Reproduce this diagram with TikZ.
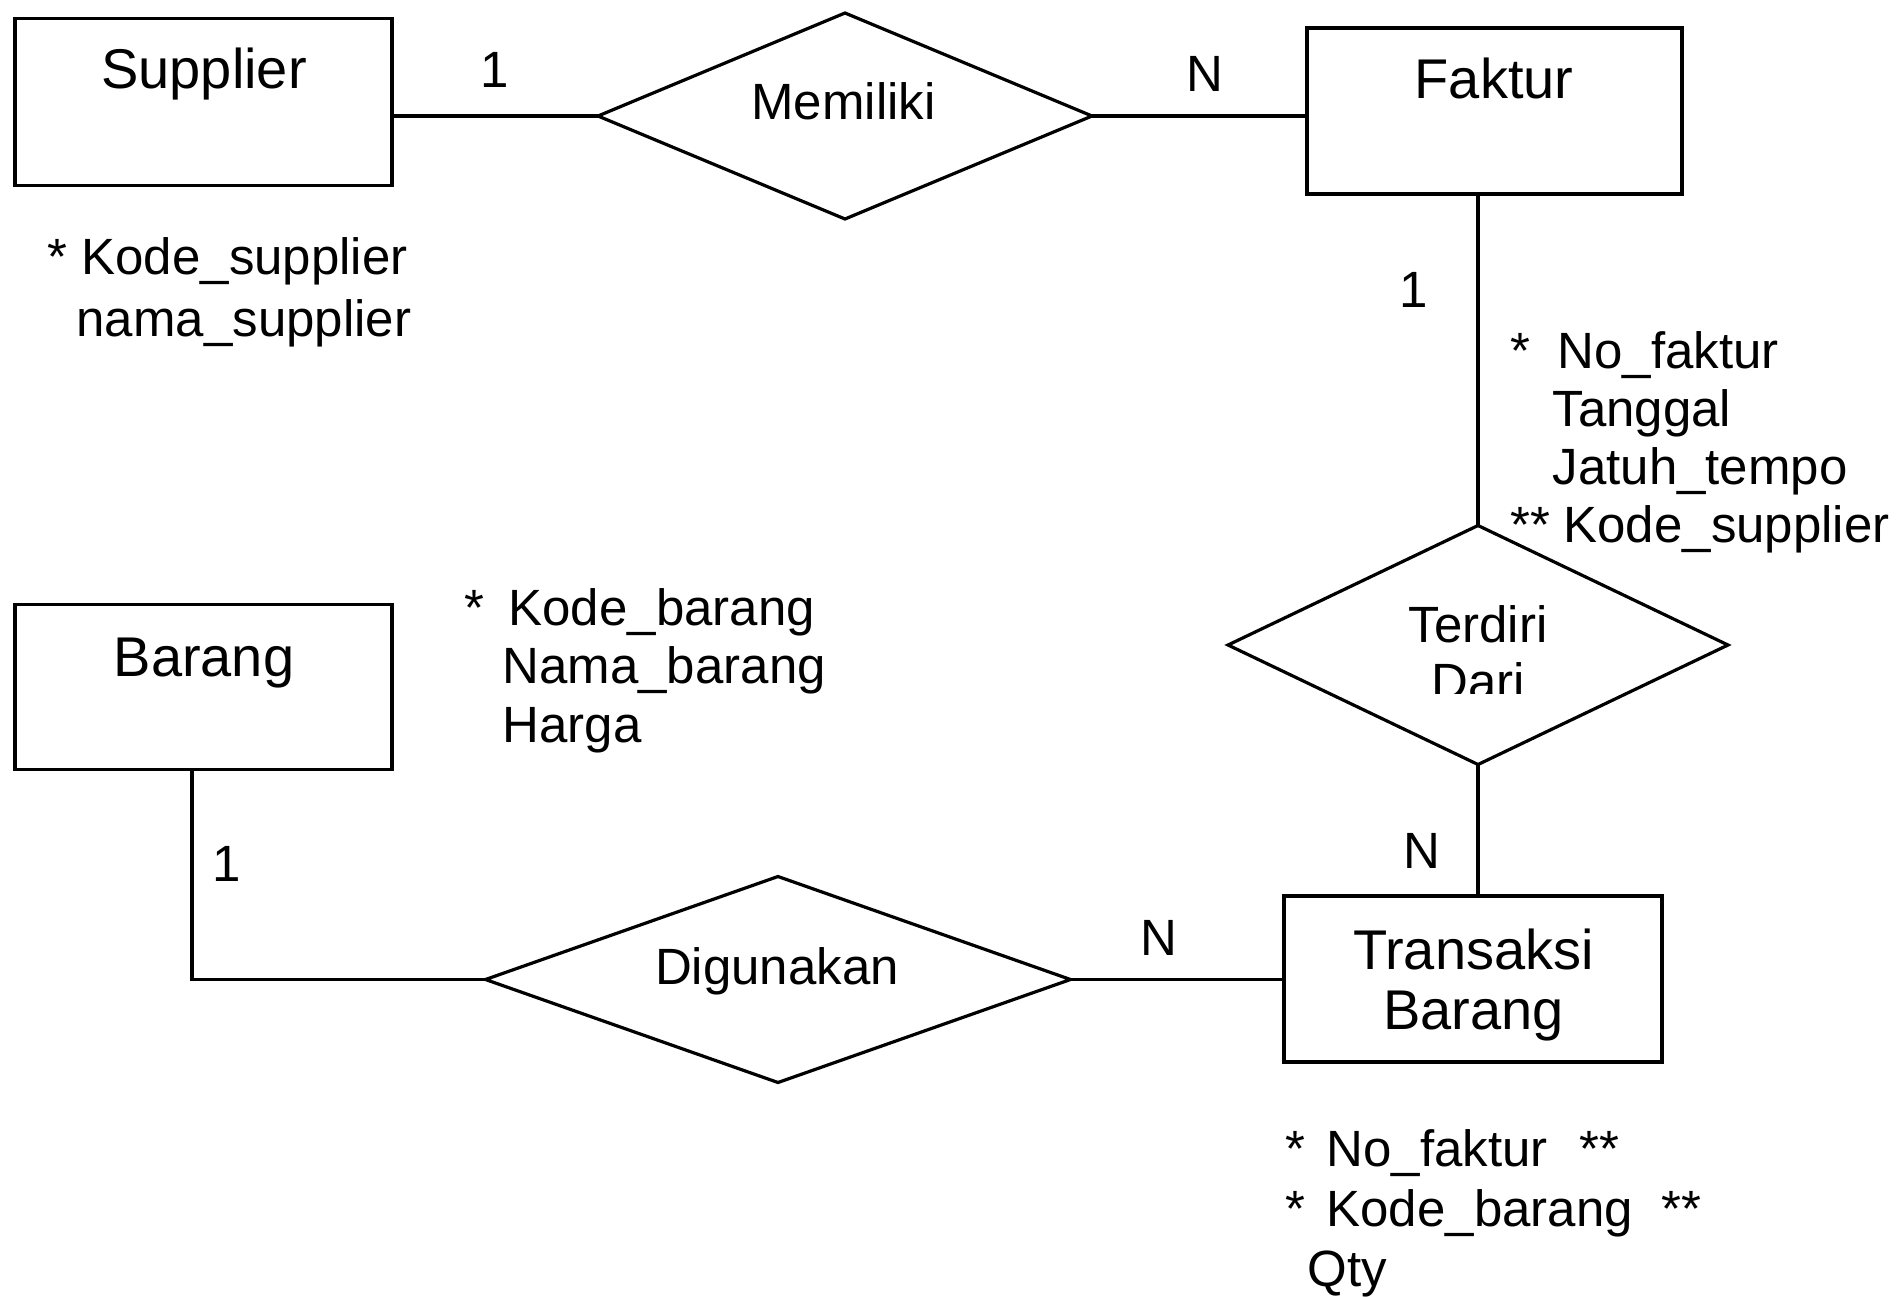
\documentclass[tikz,border=0pt]{standalone}
\usepackage{fontspec}
\setmainfont{Liberation Sans}
\usetikzlibrary{shapes.geometric}
\begin{document}
\begin{tikzpicture}[x=1pt,y=-1pt, font=\fontsize{51}{58}\selectfont, line width=3.2pt,
  entity/.style={draw, rectangle, inner sep=0pt, outer sep=0pt},
  rel/.style={draw, diamond, inner sep=0pt, outer sep=0pt},
  txt/.style={inner sep=0pt, anchor=base west},
  ctxt/.style={inner sep=0pt, anchor=base},
  etxt/.style={inner sep=0pt, anchor=base, font=\fontsize{56}{62}\selectfont}]
\fill[white] (0,0) rectangle (1903,1296);
\useasboundingbox (0,0) rectangle (1903,1296);

% entities
\node[entity, minimum width=377pt, minimum height=167pt] (sup) at (203.5,102) {};
\node[entity, minimum width=375pt, minimum height=166pt] (fak) at (1494.5,111) {};
\node[entity, minimum width=378pt, minimum height=166pt] (tra) at (1473,979) {};
\node[entity, minimum width=377pt, minimum height=165pt] (bar) at (203.5,687) {};

% relationships
\node[rel, minimum width=494pt, minimum height=206pt] (mem) at (845,116) {};
\node[rel, minimum width=500pt, minimum height=239pt] (ter) at (1478,645) {};
\node[rel, minimum width=585pt, minimum height=206pt] (dig) at (778,979.5) {};

% entity / relationship labels
\node[etxt] (supL) at (204,88) {Supplier};
\node[etxt] (fakL) at (1494,98) {Faktur};
\node[etxt] (barL) at (204,676) {Barang};
\node[etxt] (traL1) at (1473.5,969) {Transaksi};
\node[etxt] (traL2) at (1473.5,1029) {Barang};
\node[ctxt] (memL) at (843.5,119) {Memiliki};
\node[ctxt] (digL) at (777,984) {Digunakan};
\node[ctxt] (terL1) at (1478,642) {Terdiri};
\begin{scope}
  \clip (1300,600) rectangle (1650,693);
  \node[ctxt] (terL2) at (1478,699) {Dari};
\end{scope}

% connectors
\draw (mem.west -| sup.east) -- (mem.west);
\draw (mem.east) -- (mem.east -| fak.west);
\draw (fak.south -| ter.north) -- (ter.north);
\draw (ter.south) -- (ter.south |- tra.north);
\draw (dig.east) -- (dig.east -| tra.west);
\coordinate (bturn) at (192,979.5);
\draw (bturn |- bar.south) -- (bturn) -- (dig.west);

% cardinalities
\node[ctxt] (c1) at (495,87) {1};
\node[ctxt] (c2) at (1205,91) {N};
\node[ctxt] (c3) at (1414,307) {1};
\node[ctxt] (c4) at (1422,868) {N};
\node[ctxt] (c5) at (1159,955) {N};
\node[ctxt] (c6) at (227,881) {1};

% supplier attributes
\node[txt] (sa0) at (46,274) {*};
\node[txt] (sa1) at (80,274) {Kode\_supplier};
\node[txt] (sa2) at (75,336) {nama\_supplier};

% faktur attributes
\node[txt] (fa0) at (1509,368) {*};
\node[txt] (fa1) at (1556,368) {No\_faktur};
\node[txt] (fa2) at (1551,426) {Tanggal};
\node[txt] (fa3) at (1551,484) {Jatuh\_tempo};
\node[txt] (fa4) at (1509,542) {**};
\node[txt] (fa5) at (1562,542) {Kode\_supplier};

% barang attributes
\node[txt] (ba0) at (463,625) {*};
\node[txt] (ba1) at (507,625) {Kode\_barang};
\node[txt] (ba2) at (501,683) {Nama\_barang};
\node[txt] (ba3) at (501,742) {Harga};

% transaksi attributes
\node[txt] (ta0) at (1284,1166) {*};
\node[txt] (ta1) at (1325,1166) {No\_faktur};
\node[txt] (ta2) at (1578,1166) {**};
\node[txt] (ta3) at (1284,1226) {*};
\node[txt] (ta4) at (1325,1226) {Kode\_barang};
\node[txt] (ta5) at (1660,1226) {**};
\node[txt] (ta6) at (1306,1286) {Qty};
\end{tikzpicture}
\end{document}
